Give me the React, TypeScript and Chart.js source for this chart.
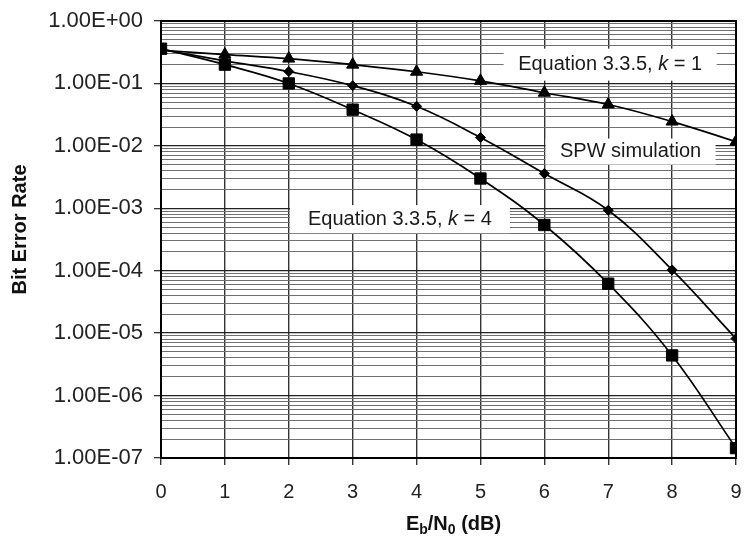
import React, { useEffect, useRef } from 'react';
import { Chart, registerables } from 'chart.js';

Chart.register(...registerables);

// ---- data ----
const ebn0 = [0, 1, 2, 3, 4, 5, 6, 7, 8, 9];
const eqK1 = [0.34, 0.29, 0.25, 0.2, 0.154, 0.11, 0.071, 0.046, 0.0245, 0.0117];
const spwSim = [0.35, 0.23, 0.155, 0.092, 0.043, 0.0136, 0.0036, 0.00093, 0.000103, 0.0000082];
const eqK4 = [0.36, 0.2, 0.1, 0.038, 0.0126, 0.003, 0.00054, 0.000062, 0.0000044, 0.000000144];
const yDecades = [0, -1, -2, -3, -4, -5, -6, -7];
const xTicks = [0, 1, 2, 3, 4, 5, 6, 7, 8, 9];

const labelK1 = [['Equation 3.3.5, ', false], ['k', true], [' = 1', false]] as [string, boolean][];
const labelSpw = [['SPW simulation', false]] as [string, boolean][];
const labelK4 = [['Equation 3.3.5, ', false], ['k', true], [' = 4', false]] as [string, boolean][];

const FONT = '"Liberation Sans", Arial, sans-serif';

const notes = [
  { parts: labelK1, x: 7.03, y: 0.2, w: 213, h: 32 },
  { parts: labelSpw, x: 7.35, y: 0.0081, w: 170, h: 26 },
  { parts: labelK4, x: 3.74, y: 0.00067, w: 220, h: 28 },
];

const isDecade = (v: number) => {
  const e = Math.log10(v);
  return Math.abs(e - Math.round(e)) < 1e-6;
};

const fmtSci = (v: number) => {
  const e = Math.round(Math.log10(v));
  return '1.00E' + (e >= 0 ? '+' : '-') + String(Math.abs(e)).padStart(2, '0');
};

const drawParts = (ctx: CanvasRenderingContext2D, parts: [string, boolean][], cx: number, cy: number, size: number) => {
  const fonts = parts.map(([, it]) => `${it ? 'italic ' : ''}${size}px ${FONT}`);
  let total = 0;
  const widths = parts.map(([t], i) => {
    ctx.font = fonts[i];
    const w = ctx.measureText(t).width;
    total += w;
    return w;
  });
  let x = cx - total / 2;
  ctx.textBaseline = 'middle';
  ctx.textAlign = 'left';
  parts.forEach(([t], i) => {
    ctx.font = fonts[i];
    ctx.fillText(t, x, cy);
    x += widths[i];
  });
};

const notesPlugin = {
  id: 'notes',
  beforeDatasetsDraw(chart: any) {
    const ctx = chart.ctx as CanvasRenderingContext2D;
    const xs = chart.scales.x;
    const ys = chart.scales.y;
    ctx.save();
    notes.forEach((n) => {
      const px = xs.getPixelForValue(n.x);
      const py = ys.getPixelForValue(n.y);
      ctx.fillStyle = '#ffffff';
      ctx.fillRect(px - n.w / 2, py - n.h / 2, n.w, n.h);
      ctx.fillStyle = '#1a1a1a';
      drawParts(ctx, n.parts, px, py, 20);
    });
    ctx.restore();
  },
  afterDraw(chart: any) {
    const ctx = chart.ctx as CanvasRenderingContext2D;
    const a = chart.chartArea;
    ctx.save();
    // frame
    ctx.strokeStyle = '#000';
    ctx.lineWidth = 2;
    ctx.strokeRect(a.left, a.top, a.right - a.left, a.bottom - a.top);
    // y title
    ctx.fillStyle = '#111';
    ctx.translate(20, (a.top + a.bottom) / 2 - 10);
    ctx.rotate(-Math.PI / 2);
    ctx.font = `bold 20px ${FONT}`;
    ctx.textAlign = 'center';
    ctx.textBaseline = 'middle';
    ctx.fillText('Bit Error Rate', 0, 0);
    ctx.setTransform(1, 0, 0, 1, 0, 0);
    // x title with subscripts
    const pieces: [string, boolean][] = [['E', false], ['b', true], ['/N', false], ['0', true], [' (dB)', false]];
    const big = `bold 20px ${FONT}`;
    const small = `bold 14px ${FONT}`;
    let total = 0;
    const ws = pieces.map(([t, sub]) => {
      ctx.font = sub ? small : big;
      const w = ctx.measureText(t).width;
      total += w;
      return w;
    });
    let x = (a.left + a.right) / 2 + 5 - total / 2;
    const base = 530;
    ctx.textAlign = 'left';
    ctx.textBaseline = 'alphabetic';
    pieces.forEach(([t, sub], i) => {
      ctx.font = sub ? small : big;
      ctx.fillText(t, x, sub ? base + 4 : base);
      x += ws[i];
    });
    ctx.restore();
  },
};

export default function App() {
  const ref = useRef<HTMLCanvasElement | null>(null);

  useEffect(() => {
    if (!ref.current) return;
    Chart.defaults.font.family = FONT;
    const mk = (label: string, data: number[], style: string, r: number) => ({
      label,
      data: ebn0.map((x, i) => ({ x, y: data[i] })),
      borderColor: '#000',
      backgroundColor: '#000',
      borderWidth: 1.7,
      pointStyle: style,
      pointRadius: r,
      pointBorderWidth: 1,
      tension: 0.4,
      fill: false,
    });
    const chart = new Chart(ref.current, {
      type: 'line',
      data: {
        datasets: [
          mk('Equation 3.3.5, k = 1', eqK1, 'triangle', 7),
          mk('SPW simulation', spwSim, 'rectRot', 5),
          mk('Equation 3.3.5, k = 4', eqK4, 'rect', 8),
        ] as any,
      },
      options: {
        animation: false,
        responsive: false,
        layout: { padding: { top: 21, right: 7, left: 0, bottom: 0 } },
        plugins: { legend: { display: false }, tooltip: { enabled: false } },
        scales: {
          x: {
            type: 'linear',
            min: 0,
            max: 9,
            afterBuildTicks: (s: any) => {
              s.ticks = xTicks.map((v) => ({ value: v }));
            },
            afterFit: (s: any) => {
              s.height = 86;
              s.paddingRight = 0;
              s.paddingLeft = 0;
            },
            ticks: { color: '#222', font: { size: 20 }, padding: 15, autoSkip: false },
            grid: { color: '#333', lineWidth: 1.4, tickLength: 7, tickColor: '#333' },
            border: { display: true, color: '#000', width: 2 },
          },
          y: {
            type: 'logarithmic',
            min: 1e-7,
            max: 1,
            afterBuildTicks: (s: any) => {
              const t: any[] = [];
              yDecades.slice().reverse().forEach((e) => {
                for (let m = 1; m <= 9; m++) {
                  const v = m * Math.pow(10, e);
                  if (v <= 1.0000001) t.push({ value: v, major: m === 1 });
                }
              });
              s.ticks = t;
            },
            afterFit: (s: any) => {
              s.width = 161;
              s.paddingTop = 0;
              s.paddingBottom = 0;
            },
            ticks: {
              color: '#222',
              font: { size: 22 },
              padding: 11,
              autoSkip: false,
              callback: (v: any) => (isDecade(Number(v)) ? fmtSci(Number(v)) : ''),
            },
            grid: {
              color: (c: any) => (c.tick && isDecade(c.tick.value) ? '#222' : '#707070'),
              lineWidth: (c: any) => (c.tick && isDecade(c.tick.value) ? 1.3 : 1),
              tickLength: 7,
              tickColor: (c: any) => (c.tick && isDecade(c.tick.value) ? '#333' : 'rgba(0,0,0,0)'),
            },
            border: { display: true, color: '#000', width: 2 },
          },
        },
      } as any,
      plugins: [notesPlugin],
    });
    return () => chart.destroy();
  }, []);

  return (
    <div style={{ position: 'fixed', left: 0, top: 0, width: 745, height: 544, background: '#fff' }}>
      <canvas ref={ref} width={745} height={544} />
    </div>
  );
}
